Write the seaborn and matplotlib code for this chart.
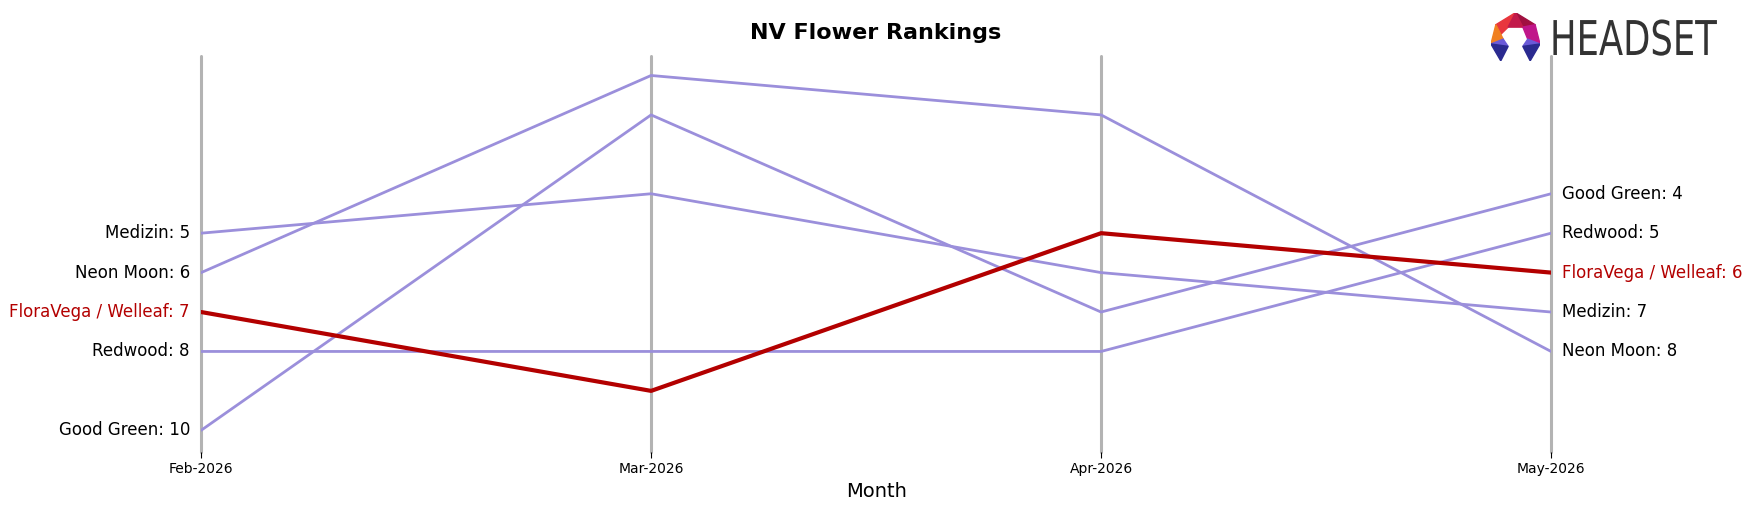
import numpy as np
import pandas as pd
import matplotlib
matplotlib.use("Agg")
import matplotlib.pyplot as plt
from matplotlib.patches import Polygon
from matplotlib.patheffects import AbstractPathEffect
from matplotlib.transforms import Affine2D
import seaborn as sns

# ranking data
months = ["Feb-2026", "Mar-2026", "Apr-2026", "May-2026"]
brands = ["Medizin", "Neon Moon", "Good Green", "Redwood", "FloraVega / Welleaf"]
medizin = [5, 4, 6, 7]
neon_moon = [6, 1, 2, 8]
good_green = [10, 2, 7, 4]
redwood = [8, 8, 8, 5]
floravega = [7, 9, 5, 6]
highlight = "FloraVega / Welleaf"

ranks = [medizin, neon_moon, good_green, redwood, floravega]
rows = []
for b, r in zip(brands, ranks):
    for i, m in enumerate(months):
        rows.append({"Brand": b, "Month": i, "Rank": r[i]})
df = pd.DataFrame(rows)

sns.set_style("white")
plt.rcParams["text.color"] = "black"
plt.rcParams["xtick.color"] = "black"
plt.rcParams["axes.labelcolor"] = "black"

fig = plt.figure(figsize=(17.52, 5.07), dpi=100)
ax = fig.add_axes([0.1148, 0.1085, 0.7705, 0.7815])

purple = "#9b8fdb"
red = "#b30000"
palette = {b: (red if b == highlight else purple) for b in brands}

others = df[df["Brand"] != highlight]
sns.lineplot(data=others, x="Month", y="Rank", hue="Brand", palette=palette,
             linewidth=2, legend=False, ax=ax)
sns.lineplot(data=df[df["Brand"] == highlight], x="Month", y="Rank", hue="Brand",
             palette=palette, linewidth=3, legend=False, ax=ax)

for i in range(len(months)):
    ax.axvline(i, color="#b3b3b3", linewidth=2.2, zorder=0, clip_on=False)

ax.set_ylim(10.55, 0.5)
ax.set_xlim(0, len(months) - 1)
ax.set_yticks([])
ax.set_xticks(range(len(months)))
ax.set_xticklabels(months, fontsize=10)
ax.tick_params(axis="x", length=4, width=0.8, color="black", bottom=True)
ax.set_xlabel("Month", fontsize=14)
ax.set_ylabel("")
for s in ax.spines.values():
    s.set_visible(False)

for b, r in zip(brands, ranks):
    c = red if b == highlight else "black"
    ax.text(-0.025, r[0], f"{b}: {r[0]}", ha="right", va="center", fontsize=12, color=c)
    ax.text(len(months) - 1 + 0.025, r[-1], f"{b}: {r[-1]}", ha="left", va="center",
            fontsize=12, color=c)

fig.text(0.5, 0.935, "NV Flower Rankings", ha="center", va="center",
         fontsize=16, fontweight="bold")


# squeeze glyphs horizontally so the word mark looks condensed
class Squeeze(AbstractPathEffect):
    def __init__(self, sx, x0):
        super().__init__()
        self.sx = sx
        self.x0 = x0

    def draw_path(self, renderer, gc, tpath, affine, rgbFace=None):
        squeeze = Affine2D().translate(-self.x0, 0).scale(self.sx, 1).translate(self.x0, 0)
        renderer.draw_path(gc, tpath, affine + squeeze, rgbFace)


# headset logo, anchored on its right edge
logo_right = 0.98
logo = fig.text(logo_right, 0.8915, "HEADSET", ha="right", va="baseline", fontsize=34.5,
                color="#333333")
w = logo.get_window_extent(renderer=fig.canvas.get_renderer()).width
logo.set_path_effects([Squeeze(167.0 / w, logo_right * fig.bbox.width)])

lax = fig.add_axes([0.851, 0.88, 0.028, 0.095])
lax.set_xlim(0, 1)
lax.set_ylim(0, 1)
lax.axis("off")
polys = [
    ([(0.1, 0.75), (0.5, 1.0), (0.35, 0.7), (0.2, 0.55)], "#e8363d"),
    ([(0.5, 1.0), (0.9, 0.75), (0.65, 0.7)], "#a01040"),
    ([(0.5, 1.0), (0.35, 0.7), (0.65, 0.7)], "#c21a4a"),
    ([(0.9, 0.75), (1.0, 0.35), (0.75, 0.45), (0.65, 0.7)], "#c0168a"),
    ([(0.1, 0.75), (0.2, 0.55), (0.25, 0.45), (0.0, 0.35)], "#f08020"),
    ([(0.0, 0.35), (0.25, 0.45), (0.35, 0.3)], "#6a5ad8"),
    ([(0.0, 0.35), (0.35, 0.3), (0.2, 0.0)], "#2a2a90"),
    ([(1.0, 0.35), (0.75, 0.45), (0.65, 0.3)], "#6a5ad8"),
    ([(1.0, 0.35), (0.65, 0.3), (0.8, 0.0)], "#2a2a90"),
]
for pts, col in polys:
    lax.add_patch(Polygon(pts, closed=True, color=col))

fig.savefig("out.png", dpi=100)
